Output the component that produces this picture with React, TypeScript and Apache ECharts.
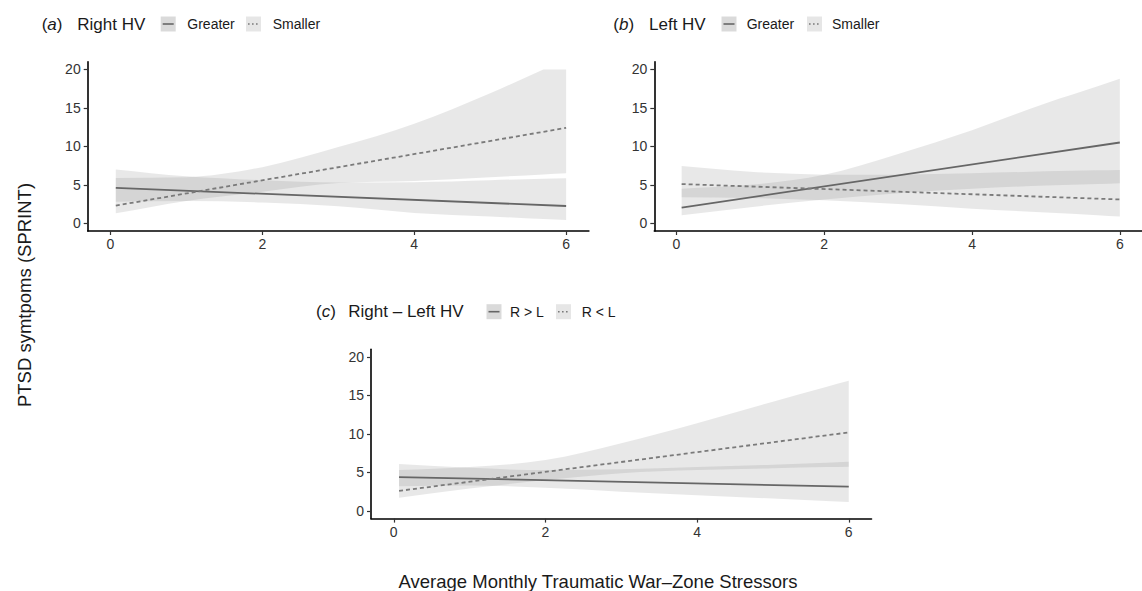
import React, { useEffect, useRef } from "react";
import * as echarts from "echarts";

const FONT = "'Liberation Sans', Arial, Helvetica, sans-serif";

const X_TICKS = [0, 2, 4, 6];
const Y_TICKS = [0, 5, 10, 15, 20];
const RIBBON_X = [0.07, 1, 2, 3, 4, 5, 5.7, 6];
const LINE_X = [0.07, 6];

// (a) Right HV
const A_GREATER_LINE = [4.6, 2.25];
const A_SMALLER_LINE = [2.3, 12.4];
const A_GREATER_LO = [2.8, 2.9, 2.7, 2.2, 1.35, 0.9, 0.55, 0.43];
const A_GREATER_HI = [7.0, 6.1, 5.6, 5.3, 5.35, 5.6, 5.8, 5.85];
const A_SMALLER_LO = [1.3, 2.9, 4.1, 5.25, 5.5, 6.0, 6.35, 6.5];
const A_SMALLER_HI = [5.9, 6.0, 7.3, 9.9, 12.95, 16.9, 20, 20];

// (b) Left HV
const B_GREATER_LINE = [2.05, 10.5];
const B_SMALLER_LINE = [5.1, 3.1];
const B_GREATER_LO = [1.05, 2.1, 3.1, 3.9, 4.5, 4.9, 5.1, 5.2];
const B_GREATER_HI = [4.5, 5.0, 6.3, 9.0, 12.1, 15.6, 17.8, 18.8];
const B_SMALLER_LO = [3.4, 3.3, 3.0, 2.5, 1.9, 1.4, 1.05, 0.87];
const B_SMALLER_HI = [7.44, 6.7, 6.3, 6.3, 6.5, 6.75, 6.9, 6.94];

// (c) Right - Left HV
const C_GT_LINE = [4.4, 3.15];
const C_LT_LINE = [2.6, 10.2];
const C_GT_LO = [3.2, 3.3, 3.0, 2.5, 2.05, 1.6, 1.3, 1.17];
const C_GT_HI = [6.1, 5.6, 5.3, 5.4, 5.7, 6.0, 6.25, 6.4];
const C_LT_LO = [1.7, 2.9, 4.0, 4.9, 5.3, 5.55, 5.7, 5.75];
const C_LT_HI = [5.3, 5.7, 6.6, 8.8, 11.4, 14.2, 16.1, 16.9];

const RIBBON_FILL = "rgba(128,128,128,0.18)";

// Monotone cubic bezier segments through screen points (rendering only).
// A flat run (equal neighbouring points) is drawn straight, with a sharp corner where it starts.
function monotoneSegments(pts: number[][]) {
  const n = pts.length;
  const h: number[] = [];
  const d: number[] = [];
  for (let i = 0; i < n - 1; i++) {
    h.push(pts[i + 1][0] - pts[i][0]);
    d.push((pts[i + 1][1] - pts[i][1]) / (pts[i + 1][0] - pts[i][0]));
  }
  const flat = d.map((v) => Math.abs(v) < 1e-9);
  const mL: number[] = new Array(n).fill(0); // tangent used when arriving at point i
  const mR: number[] = new Array(n).fill(0); // tangent used when leaving point i
  for (let i = 0; i < n; i++) {
    let m: number;
    if (i === 0) m = d[0];
    else if (i === n - 1) m = d[n - 2];
    else {
      const d0 = d[i - 1];
      const d1 = d[i];
      if (d0 * d1 <= 0) m = 0;
      else {
        const p = (d0 * h[i] + d1 * h[i - 1]) / (h[i - 1] + h[i]);
        m = (Math.sign(d0) + Math.sign(d1)) * Math.min(Math.abs(d0), Math.abs(d1), 0.5 * Math.abs(p));
      }
    }
    mL[i] = m;
    mR[i] = m;
    if (i > 0 && i < n - 1 && flat[i] && !flat[i - 1]) mL[i] = d[i - 1];
    if (i > 0 && i < n - 1 && flat[i - 1] && !flat[i]) mR[i] = d[i];
  }
  const segs: number[][][] = [];
  for (let i = 0; i < n - 1; i++) {
    const t = h[i] / 3;
    if (flat[i]) {
      segs.push([pts[i], [pts[i][0] + t, pts[i][1]], [pts[i + 1][0] - t, pts[i + 1][1]], pts[i + 1]]);
    } else {
      segs.push([
        pts[i],
        [pts[i][0] + t, pts[i][1] + mR[i] * t],
        [pts[i + 1][0] - t, pts[i + 1][1] - mL[i + 1] * t],
        pts[i + 1],
      ]);
    }
  }
  return segs;
}

function ribbon(gi: number, lo: number[], hi: number[]) {
  return {
    type: "custom",
    xAxisIndex: gi,
    yAxisIndex: gi,
    silent: true,
    clip: true,
    z: 1,
    data: RIBBON_X.map((x, i) => [x, lo[i], hi[i]]),
    encode: { x: 0, y: [1, 2] },
    renderItem: (params: any, api: any) => {
      if (params.dataIndex !== 0) return null;
      const up = RIBBON_X.map((x, i) => api.coord([x, hi[i]]));
      const dn = RIBBON_X.map((x, i) => api.coord([x, lo[i]]));
      const upSegs = monotoneSegments(up);
      const dnSegs = monotoneSegments(dn).reverse();
      let path = `M${up[0][0]},${up[0][1]}`;
      upSegs.forEach((s) => {
        path += ` C${s[1][0]},${s[1][1]} ${s[2][0]},${s[2][1]} ${s[3][0]},${s[3][1]}`;
      });
      path += ` L${dn[dn.length - 1][0]},${dn[dn.length - 1][1]}`;
      dnSegs.forEach((s) => {
        path += ` C${s[2][0]},${s[2][1]} ${s[1][0]},${s[1][1]} ${s[0][0]},${s[0][1]}`;
      });
      path += " Z";
      return {
        type: "path",
        shape: { pathData: path },
        style: { fill: RIBBON_FILL, stroke: "none" },
      };
    },
  };
}

function fitLine(gi: number, vals: number[], dashed: boolean) {
  return {
    type: "line",
    xAxisIndex: gi,
    yAxisIndex: gi,
    symbol: "none",
    showSymbol: false,
    silent: true,
    z: 3,
    data: LINE_X.map((x, i) => [x, vals[i]]),
    lineStyle: dashed
      ? { color: "#7a7a7a", width: 1.8, type: [4, 3] }
      : { color: "#666666", width: 1.8, type: "solid" },
  };
}

const grids = [
  { left: 87.7, top: 61.7, width: 501.2, height: 169.3 },
  { left: 654.3, top: 61.7, width: 501.2, height: 169.3 },
  { left: 371, top: 349.3, width: 500.5, height: 169.3 },
];

function xAxis(gi: number) {
  return {
    gridIndex: gi,
    type: "value",
    min: -0.3,
    max: 6.3,
    axisLine: { show: true, onZero: false, lineStyle: { color: "#000", width: 1.6 } },
    axisTick: { show: true, customValues: X_TICKS, length: 4, lineStyle: { color: "#333", width: 1.2 } },
    axisLabel: { customValues: X_TICKS, color: "#333", fontSize: 14, margin: 6, fontFamily: FONT },
    splitLine: { show: false },
  };
}

function yAxis(gi: number) {
  return {
    gridIndex: gi,
    type: "value",
    min: -1,
    max: 21,
    axisLine: { show: true, onZero: false, lineStyle: { color: "#000", width: 1.6 } },
    axisTick: { show: true, customValues: Y_TICKS, length: 4, lineStyle: { color: "#333", width: 1.2 } },
    axisLabel: { customValues: Y_TICKS, color: "#333", fontSize: 14, margin: 7, fontFamily: FONT },
    splitLine: { show: false },
  };
}

function txt(x: number, y: number, text: string, size: number, extra: any = {}) {
  return {
    type: "text",
    x,
    y,
    silent: true,
    style: {
      text,
      fontSize: size,
      fontFamily: FONT,
      fill: "#1a1a1a",
      verticalAlign: "middle",
      align: "left",
      ...extra,
    },
  };
}

function key(x: number, cy: number, dotted: boolean, fill: string) {
  return [
    { type: "rect", silent: true, shape: { x, y: cy - 7.5, width: 15, height: 15 }, style: { fill } },
    {
      type: "line",
      silent: true,
      shape: { x1: x + 2, y1: cy, x2: x + 13, y2: cy },
      style: { stroke: dotted ? "#7a7a7a" : "#666", lineWidth: 1.6, lineDash: dotted ? [1.6, 2.4] : null },
    },
  ];
}

function title(x: number, cy: number, letter: string, label: string, labelX: number) {
  return [
    {
      type: "text",
      x,
      y: cy,
      silent: true,
      style: {
        text: "({i|" + letter + "})",
        fontSize: 17,
        fontFamily: FONT,
        fill: "#1a1a1a",
        verticalAlign: "middle",
        rich: { i: { fontStyle: "italic", fontSize: 17, fontFamily: FONT, fill: "#1a1a1a" } },
      },
    },
    txt(labelX, cy, label, 17),
  ];
}

export default function App() {
  const ref = useRef<HTMLDivElement>(null);
  useEffect(() => {
    if (!ref.current) return;
    const chart = echarts.init(ref.current, null, { renderer: "svg" });
    const series = [
      ribbon(0, A_GREATER_LO, A_GREATER_HI),
      ribbon(0, A_SMALLER_LO, A_SMALLER_HI),
      fitLine(0, A_GREATER_LINE, false),
      fitLine(0, A_SMALLER_LINE, true),
      ribbon(1, B_GREATER_LO, B_GREATER_HI),
      ribbon(1, B_SMALLER_LO, B_SMALLER_HI),
      fitLine(1, B_GREATER_LINE, false),
      fitLine(1, B_SMALLER_LINE, true),
      ribbon(2, C_GT_LO, C_GT_HI),
      ribbon(2, C_LT_LO, C_LT_HI),
      fitLine(2, C_GT_LINE, false),
      fitLine(2, C_LT_LINE, true),
    ];
    const graphics: any[] = [
      ...title(41.7, 24, "a", "Right HV", 77.3),
      ...key(160.7, 24, false, "#dadada"),
      txt(187.3, 24, "Greater", 14),
      ...key(246, 24, true, "#e6e6e6"),
      txt(272.7, 24, "Smaller", 14),

      ...title(613.3, 24, "b", "Left HV", 649),
      ...key(721.5, 24, false, "#dadada"),
      txt(746.7, 24, "Greater", 14),
      ...key(807, 24, true, "#e6e6e6"),
      txt(832, 24, "Smaller", 14),

      ...title(316, 311.7, "c", "Right \u2013 Left HV", 348.3),
      ...key(486.5, 311.7, false, "#dadada"),
      txt(510, 311.7, "R > L", 14),
      ...key(556, 311.7, true, "#e6e6e6"),
      txt(581.7, 311.7, "R < L", 14),

      txt(598, 581, "Average Monthly Traumatic War\u2013Zone Stressors", 18.5, { align: "center" }),
      {
        type: "text",
        x: 24,
        y: 295,
        rotation: Math.PI / 2,
        silent: true,
        style: {
          text: "PTSD symtpoms (SPRINT)",
          fontSize: 18.5,
          fontFamily: FONT,
          fill: "#1a1a1a",
          align: "center",
          verticalAlign: "middle",
        },
      },
    ];
    chart.setOption({
      animation: false,
      backgroundColor: "#ffffff",
      grid: grids,
      xAxis: [xAxis(0), xAxis(1), xAxis(2)],
      yAxis: [yAxis(0), yAxis(1), yAxis(2)],
      series,
      graphic: { elements: graphics },
    });
    return () => chart.dispose();
  }, []);
  return (
    <div
      ref={ref}
      style={{ position: "fixed", left: 0, top: 0, width: 1142, height: 591, background: "#fff" }}
    />
  );
}
